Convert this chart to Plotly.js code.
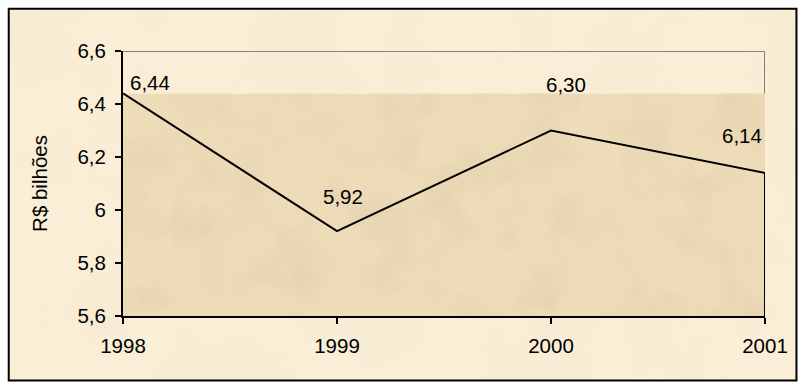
<!DOCTYPE html>
<html>
<head>
<meta charset="utf-8">
<script src="https://cdn.plot.ly/plotly-3.0.1.min.js"></script>
<style>
  html, body { margin: 0; padding: 0; background: #ffffff; }
  #chart { width: 805px; height: 387px; }
</style>
</head>
<body>
<div id="chart"></div>
<script>
// Annual values, R$ billions
const years = [1998, 1999, 2000, 2001];
const values = [6.44, 5.92, 6.30, 6.14];
const yTicks = [5.6, 5.8, 6.0, 6.2, 6.4, 6.6];

const FONT = 'Arial, "Liberation Sans", sans-serif';
const TEXT_SIZE = 20.5;

// pixel offsets of each value label relative to its point
const labelShift = [[27, -11], [6, -35], [15, -46], [-23, -37]];

const fmt = v => v.toFixed(2).replace('.', ',');

// parchment texture as an SVG noise tile
function parchment(w, h, base, tint, strength, freq, seed) {
  const svg =
    `<svg xmlns="http://www.w3.org/2000/svg" width="${w}" height="${h}">` +
    `<filter id="n" x="0" y="0" width="100%" height="100%">` +
    `<feTurbulence type="fractalNoise" baseFrequency="${freq}" numOctaves="4" seed="${seed}"/>` +
    `<feColorMatrix type="matrix" values="0 0 0 0 ${tint[0]} 0 0 0 0 ${tint[1]} 0 0 0 0 ${tint[2]} ${strength} 0 0 0 ${-strength * 0.42}"/>` +
    `</filter>` +
    `<rect width="100%" height="100%" fill="${base}"/>` +
    `<rect width="100%" height="100%" filter="url(#n)"/>` +
    `</svg>`;
  return 'data:image/svg+xml;charset=utf-8,' + encodeURIComponent(svg);
}

const x0 = years[0], x1 = years[years.length - 1];
const yMin = yTicks[0], yMax = yTicks[yTicks.length - 1];
const peak = Math.max(...values);
const last = values[values.length - 1];

const trace = {
  x: years,
  y: values,
  type: 'scatter',
  mode: 'lines',
  line: { color: '#000000', width: 2 },
  hoverinfo: 'skip',
  cliponaxis: false
};

const annotations = years.map((yr, i) => ({
  x: yr, y: values[i], xref: 'x', yref: 'y',
  text: fmt(values[i]),
  showarrow: true, arrowcolor: 'rgba(0,0,0,0)', arrowwidth: 0.1,
  ax: labelShift[i][0], ay: labelShift[i][1],
  font: { family: FONT, size: TEXT_SIZE, color: '#000000' }
}));

const frame = { x0: -0.178, x1: 1.049, y0: -0.243, y1: 1.159 };

const images = [
  { source: parchment(790, 372, '#faeed6', [0.90, 0.80, 0.62], 1.1, 0.012, 4),
    xref: 'paper', yref: 'paper', layer: 'below',
    x: frame.x0, y: frame.y1, sizex: frame.x1 - frame.x0, sizey: frame.y1 - frame.y0,
    xanchor: 'left', yanchor: 'top', sizing: 'stretch' },
  { source: parchment(645, 224, '#eedcb9', [0.78, 0.64, 0.42], 2.0, 0.02, 9),
    xref: 'x', yref: 'y', layer: 'below',
    x: x0, y: peak, sizex: x1 - x0, sizey: peak - yMin,
    xanchor: 'left', yanchor: 'top', sizing: 'stretch' }
];

const shapes = [
  // black frame around the whole chart
  { type: 'rect', xref: 'paper', yref: 'paper', layer: 'above',
    x0: frame.x0, x1: frame.x1, y0: frame.y0, y1: frame.y1,
    fillcolor: 'rgba(0,0,0,0)', line: { color: '#000000', width: 2 } },
  // grey frame on top and right of the plot area
  { type: 'line', xref: 'x', yref: 'y', x0: x0, x1: x1, y0: yMax, y1: yMax,
    line: { color: '#808080', width: 2 } },
  { type: 'line', xref: 'x', yref: 'y', x0: x1, x1: x1, y0: yMax, y1: peak,
    line: { color: '#808080', width: 2 } },
  // closing edge of the series down to the axis
  { type: 'line', xref: 'x', yref: 'y', x0: x1, x1: x1, y0: last, y1: yMin,
    line: { color: '#000000', width: 2 } }
];

const layout = {
  width: 805, height: 387,
  margin: { l: 123, r: 40, t: 51, b: 71 },
  paper_bgcolor: '#ffffff',
  plot_bgcolor: '#ffffff',
  separators: ',.',
  showlegend: false,
  font: { family: FONT, size: TEXT_SIZE, color: '#000000' },
  xaxis: {
    range: [x0, x1],
    tickvals: years,
    ticktext: years.map(String),
    ticks: 'outside', ticklen: 6, tickwidth: 2, tickcolor: '#000000',
    ticklabelstandoff: 4,
    showline: true, linecolor: '#000000', linewidth: 2,
    showgrid: false, zeroline: false,
    tickfont: { family: FONT, size: TEXT_SIZE, color: '#000000' }
  },
  yaxis: {
    range: [yMin, yMax],
    tickvals: yTicks,
    tickformat: '.1~f',
    ticks: 'outside', ticklen: 6, tickwidth: 2, tickcolor: '#000000',
    ticklabelstandoff: 5,
    showline: true, linecolor: '#000000', linewidth: 2,
    showgrid: false, zeroline: false,
    tickfont: { family: FONT, size: TEXT_SIZE, color: '#000000' },
    title: { text: 'R$ bilhões', standoff: 24,
             font: { family: FONT, size: TEXT_SIZE, color: '#000000' } }
  },
  images: images,
  shapes: shapes,
  annotations: annotations
};

Plotly.newPlot('chart', [trace], layout, { displayModeBar: false, staticPlot: true });
</script>
</body>
</html>
